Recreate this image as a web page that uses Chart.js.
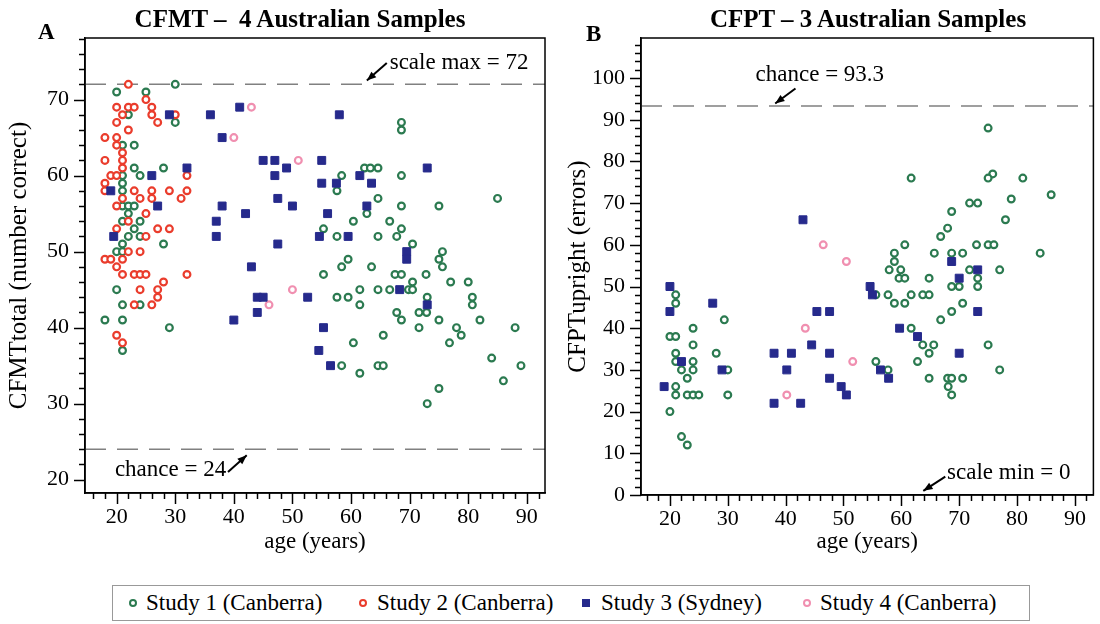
<!DOCTYPE html>
<html>
<head>
<meta charset="utf-8">
<script src="https://cdn.jsdelivr.net/npm/chart.js@4.4.0/dist/chart.umd.min.js"></script>
<style>
  body { margin: 0; background: #fff; width: 1100px; height: 624px; position: relative; overflow: hidden;
         font-family: 'Liberation Serif', 'DejaVu Serif', serif; color: #000; }
  #cA { position: absolute; left: 0; top: 0; }
  #cB { position: absolute; left: 560px; top: 0; }
  .panel { position: absolute; font-weight: bold; font-size: 23px; line-height: 23px; }
  .title { position: absolute; font-weight: bold; font-size: 25px; line-height: 25px; text-align: center; white-space: pre; }
  #legend { position: absolute; left: 112px; top: 585px; width: 918px; height: 36px; border: 1px solid #999; box-sizing: border-box; }
  #legend .item { position: absolute; top: 0; height: 34px; line-height: 34px; font-size: 23px; white-space: nowrap; }
  #legend .mk { position: absolute; top: 13px; box-sizing: border-box; }
  #legend .circ { width: 8px; height: 8px; border-radius: 50%; border: 2px solid; }
  #legend .sq { width: 8px; height: 8px; }
</style>
</head>
<body>
<canvas id="cA" width="560" height="560"></canvas>
<canvas id="cB" width="540" height="560"></canvas>

<div class="panel" style="left:38px; top:20px;">A</div>
<div class="title" style="left:100px; top:6px; width:400px;">CFMT –  4 Australian Samples</div>
<div class="panel" style="left:586px; top:22px;">B</div>
<div class="title" style="left:668px; top:6px; width:400px;">CFPT – 3 Australian Samples</div>

<div id="legend">
  <span class="mk circ" style="left:16px; border-color:#2b7a50;"></span>
  <span class="item" style="left:33px;">Study 1 (Canberra)</span>
  <span class="mk circ" style="left:246px; border-color:#ea3c2c;"></span>
  <span class="item" style="left:264px;">Study 2 (Canberra)</span>
  <span class="mk sq" style="left:469px; background:#262a8c;"></span>
  <span class="item" style="left:488px;">Study 3 (Sydney)</span>
  <span class="mk circ" style="left:690px; border-color:#f08fb0;"></span>
  <span class="item" style="left:707px;">Study 4 (Canberra)</span>
</div>

<script>
const FONT = "'Liberation Serif', 'DejaVu Serif', serif";
const GREEN = '#2b7a50', RED = '#ea3c2c', BLUE = '#262a8c', PINK = '#f08fb0';

// ---- Panel A: CFMT total (number correct) by age ----
const cfmtS1Age = [30,20,25,22,30,21,23,23,28,24, 21,21,21,21,22,23,22,21,24,23,
  22,24,21,28,20,21,20,21,24,18, 21,29,21,
  68.6,68.6,62.3,63.3,64.6,58.4,57.6,68.6,64.6,68.6, 75,85,62.7,60.4,66.6,68.6,55.3,57.6,64.6,67.8,
  70.5,75.6,75,59.5,75.6,58.4,63.5,55.3,67.5,68.6, 72.8,70.5,77,80,57.6,59.5,61.5,61.5,64.6,66.6,
  69.8,70.5,73,80.7,80.7,67.8,68.6,71.6,72.9,75, 71.6,78,78.8,76.8,82,88,84,89,86,75,
  73,65.5,60.4,58.4,61.5,64.6,65.5];
const cfmtS1Score = [72,71,71,68,67,64,64,61,61,60, 60,59,58,56,56,56,55,54,54,53,
  52,52,51,51,50,50,45,43,43,41, 41,40,37,
  67,66,61,61,61,60,58,60,57,56, 56,57,55,54,54,53,53,52,52,52,
  51,50,49,49,48,48,48,47,47,47, 47,46,46,46,44,44,45,43,45,45,
  45,45,44,44,43,42,41,42,42,41, 40,40,39,38,41,40,36,35,33,32,
  30,39,38,35,34,35,35];

const cfmtS2Age = [22,20,22,23,26,30,20,21,26,27, 25,22,18,20,20,21,21,18,21,19,
  20,18,18,32,32,29,26,23,21,24, 26,31,20,25,27,29,20,22,25,18,
  19,22,24,21,20,21,23,24,25,32, 28,24,27,27,26,23,20,21];
const cfmtS2Score = [72,69,69,69,69,68,67,68,68,67, 70,66,65,65,64,63,62,62,61,60,
  60,59,58,60,58,58,58,58,57,57, 57,57,56,55,53,53,53,54,52,49,
  49,50,50,49,48,47,47,47,47,47, 46,45,45,44,43,43,39,38];

const cfmtS3Age = [29,36,41,38,45,47,49,32,26,47, 19,47.5,27,38,42,37,37,19.5,47.5,43,
  40,44,45,44,58,55,55,57.5,61.5,63.5, 73,50,56,62.7,54.6,59.5,69.5,69.5,52.6,68.3,
  73,55.3,54.5,56.5];
const cfmtS3Score = [68,68,69,65,62,62,61,61,60,60, 58,57,56,56,55,54,52,52,51,48,
  41,44,44,42,68,62,59,59,60,59, 61,56,55,56,52,52,50,49,44,45,
  43,40,37,35];

const cfmtS4Age = [43,40,51,46,50];
const cfmtS4Score = [69,65,62,43,45];

const cfmtChanceLine = 24, cfmtScaleMax = 72;

// ---- Panel B: CFPT upright (errors) by age ----
const cfptS1Age = [21,21,29.4,24,20,21,24,21,21,24, 28,22,24,30,23,21,21,23,24,25,
  30,20,22,23,
  75,75.8,75,61.7,81,79, 85.9,71.8,73.2,68.7,78,68,66.8,73,75,76,
  60.6,58.8,65.7,68.7,70.6,84,58.8,57.9,59.9,71.8, 77,59.6,60.6,64.8,73.2,68.7,70,73.2,55.6,57.7,
  61.7,63.7,64.8,58.8,60.6,70.6,68.7,66.8,61.7,63.7, 65.6,75,64.8,62.8,55.6,57.7,77,64.8,68,68.7,
  70.6,68.1,68.7];
const cfptS1Errors = [48,46,42,40,38,38,36,34,32,32, 34,30,30,30,28,26,24,24,24,24,
  24,20,14,12,
  88,77,76,76,76,71, 72,70,70,68,66,64,62,60,60,60,
  60,58,58,58,58,58,56,54,54,54, 54,52,52,52,52,50,50,50,48,48,
  48,48,48,46,46,46,44,42,40,36, 36,36,34,32,32,30,30,28,28,28,
  28,26,24];

const cfptS3Age = [43,20,27.4,20,22,29,19,45.4,47.6,44.5, 38,41,47.6,40.2,47.6,49.6,50.5,38,42.6,68.7,
  73.2,70,54.6,55,73.2,59.7,62.8,70,56.4,57.8];
const cfptS3Errors = [66,50,46,44,32,30,26,44,44,36, 34,34,34,30,28,26,24,22,22,56,
  54,52,50,48,44,40,38,34,30,28];

const cfptS4Age = [46.5,50.5,43.4,51.6,40.2];
const cfptS4Errors = [60,56,40,32,24];

const cfptChanceLine = 93.3;

// ---- helpers ----
const pts = (xs, ys) => xs.map((x, i) => ({ x: x, y: ys[i] }));

function circles(label, color, data, order) {
  return { label, data, order, pointStyle: 'circle', pointRadius: 3.4, pointHoverRadius: 3.4,
           borderWidth: 2.2, borderColor: color, backgroundColor: '#fff' };
}
function squares(label, color, data, order) {
  return { label, data, order, pointStyle: 'rect', pointRadius: 5.6, pointHoverRadius: 5.6,
           borderWidth: 1, borderColor: color, backgroundColor: color };
}
function refLine(y, x0, x1) {
  return { type: 'line', data: [{ x: x0, y: y }, { x: x1, y: y }], order: 9, showLine: true,
           pointRadius: 0, borderColor: '#808080', borderWidth: 1.5, borderDash: [21, 11], fill: false };
}

function drawArrow(ctx, x1, y1, x2, y2) {
  ctx.beginPath(); ctx.moveTo(x1, y1); ctx.lineTo(x2, y2); ctx.stroke();
  const a = Math.atan2(y2 - y1, x2 - x1), h = 10;
  ctx.beginPath();
  ctx.moveTo(x2, y2);
  ctx.lineTo(x2 - h * Math.cos(a - 0.38), y2 - h * Math.sin(a - 0.38));
  ctx.lineTo(x2 - h * Math.cos(a + 0.38), y2 - h * Math.sin(a + 0.38));
  ctx.closePath(); ctx.fill();
}

// frame, major/minor tick marks and the text notes with arrows
const decor = {
  id: 'decor',
  afterDraw(chart, args, opts) {
    const ctx = chart.ctx, area = chart.chartArea;
    const xs = chart.scales.x, ys = chart.scales.y;
    ctx.save();
    ctx.strokeStyle = '#000'; ctx.fillStyle = '#000'; ctx.lineWidth = 1.5;
    ctx.strokeRect(area.left, area.top, area.right - area.left, area.bottom - area.top);

    for (let v = Math.ceil(xs.min / 2) * 2; v <= xs.max; v += 2) {
      const px = Math.round(xs.getPixelForValue(v)) + 0.5;
      const len = v % 10 === 0 ? 11 : 6;
      ctx.beginPath(); ctx.moveTo(px, area.bottom); ctx.lineTo(px, area.bottom + len); ctx.stroke();
    }
    for (let v = Math.ceil(ys.min / opts.yStep) * opts.yStep; v <= ys.max; v += opts.yStep) {
      const py = Math.round(ys.getPixelForValue(v)) + 0.5;
      const len = v % 10 === 0 ? 11 : 6;
      ctx.beginPath(); ctx.moveTo(area.left, py); ctx.lineTo(area.left - len, py); ctx.stroke();
    }

    ctx.font = '23px ' + FONT;
    ctx.textAlign = 'left'; ctx.textBaseline = 'middle';
    opts.notes.forEach(n => {
      ctx.fillText(n.text, xs.getPixelForValue(n.x), ys.getPixelForValue(n.y));
    });
    ctx.lineWidth = 2;
    opts.arrows.forEach(a => {
      drawArrow(ctx, xs.getPixelForValue(a[0]), ys.getPixelForValue(a[1]),
                xs.getPixelForValue(a[2]), ys.getPixelForValue(a[3]));
    });
    ctx.restore();
  }
};

function axes(xMin, xMax, yMin, yMax, yTitle, yWidth, xHeight, yPad) {
  const tickFont = { family: FONT, size: 22 };
  return {
    x: {
      type: 'linear', min: xMin, max: xMax,
      afterFit: s => { s.height = xHeight; },
      border: { display: true, color: '#000', width: 1.5 },
      grid: { drawOnChartArea: false, drawTicks: true, tickLength: 11, tickColor: 'rgba(0,0,0,0)' },
      ticks: { stepSize: 2, includeBounds: false, autoSkip: false, maxRotation: 0, padding: 0,
               color: '#000', font: tickFont,
               callback: v => (v % 10 === 0 && v >= 20 && v <= 90) ? v : '' },
      title: { display: true, text: 'age (years)', color: '#000',
               font: { family: FONT, size: 23 }, padding: { top: 0, bottom: 4 } }
    },
    y: {
      type: 'linear', min: yMin, max: yMax,
      afterFit: s => { s.width = yWidth; },
      border: { display: true, color: '#000', width: 1.5 },
      grid: { drawOnChartArea: false, drawTicks: true, tickLength: 11, tickColor: 'rgba(0,0,0,0)' },
      ticks: { stepSize: 2, includeBounds: false, autoSkip: false, padding: 5,
               color: '#000', font: tickFont,
               callback: v => (v % 10 === 0) ? v : '' },
      title: { display: true, text: yTitle, color: '#000',
               font: { family: FONT, size: 25 }, padding: { top: yPad, bottom: 0 } }
    }
  };
}

const common = {
  responsive: false,
  animation: false,
  events: [],
};

// Panel A
const axA = { xMin: 14.6, xMax: 93.1 };
new Chart(document.getElementById('cA'), {
  type: 'scatter',
  data: {
    datasets: [
      squares('Study 3 (Sydney)', BLUE, pts(cfmtS3Age, cfmtS3Score), 1),
      circles('Study 4 (Canberra)', PINK, pts(cfmtS4Age, cfmtS4Score), 2),
      circles('Study 2 (Canberra)', RED, pts(cfmtS2Age, cfmtS2Score), 3),
      circles('Study 1 (Canberra)', GREEN, pts(cfmtS1Age, cfmtS1Score), 4),
      refLine(cfmtScaleMax, axA.xMin, axA.xMax),
      refLine(cfmtChanceLine, axA.xMin, axA.xMax)
    ]
  },
  options: Object.assign({}, common, {
    layout: { padding: { top: 38, right: 15, bottom: 0, left: 0 } },
    scales: axes(axA.xMin, axA.xMax, 18.25, 78.1, 'CFMTtotal (number correct)', 85, 67, 4),
    plugins: {
      legend: { display: false },
      tooltip: { enabled: false },
      decor: {
        yStep: 2,
        notes: [
          { text: 'scale max = 72', x: 66.6, y: 74.8 },
          { text: 'chance = 24', x: 19.7, y: 21.3 }
        ],
        arrows: [
          [66.1, 74.8, 62.7, 72.5],
          [39.0, 21.0, 42.2, 23.2]
        ]
      }
    }
  }),
  plugins: [decor]
});

// Panel B
const axB = { xMin: 15.0, xMax: 93.2 };
new Chart(document.getElementById('cB'), {
  type: 'scatter',
  data: {
    datasets: [
      squares('Study 3 (Sydney)', BLUE, pts(cfptS3Age, cfptS3Errors), 1),
      circles('Study 4 (Canberra)', PINK, pts(cfptS4Age, cfptS4Errors), 2),
      circles('Study 1 (Canberra)', GREEN, pts(cfptS1Age, cfptS1Errors), 4),
      refLine(cfptChanceLine, axB.xMin, axB.xMax)
    ]
  },
  options: Object.assign({}, common, {
    layout: { padding: { top: 38, right: 2, bottom: 0, left: 0 } },
    scales: axes(axB.xMin, axB.xMax, 0, 109.6, 'CFPTupright (errors)', 81, 65, 3),
    plugins: {
      legend: { display: false },
      tooltip: { enabled: false },
      decor: {
        yStep: 2,
        notes: [
          { text: 'chance = 93.3', x: 34.8, y: 100.7 },
          { text: 'scale min = 0', x: 67.9, y: 5.3 }
        ],
        arrows: [
          [41.7, 97.5, 38.2, 93.9],
          [67.6, 4.4, 63.8, 1.0]
        ]
      }
    }
  }),
  plugins: [decor]
});
</script>
</body>
</html>
